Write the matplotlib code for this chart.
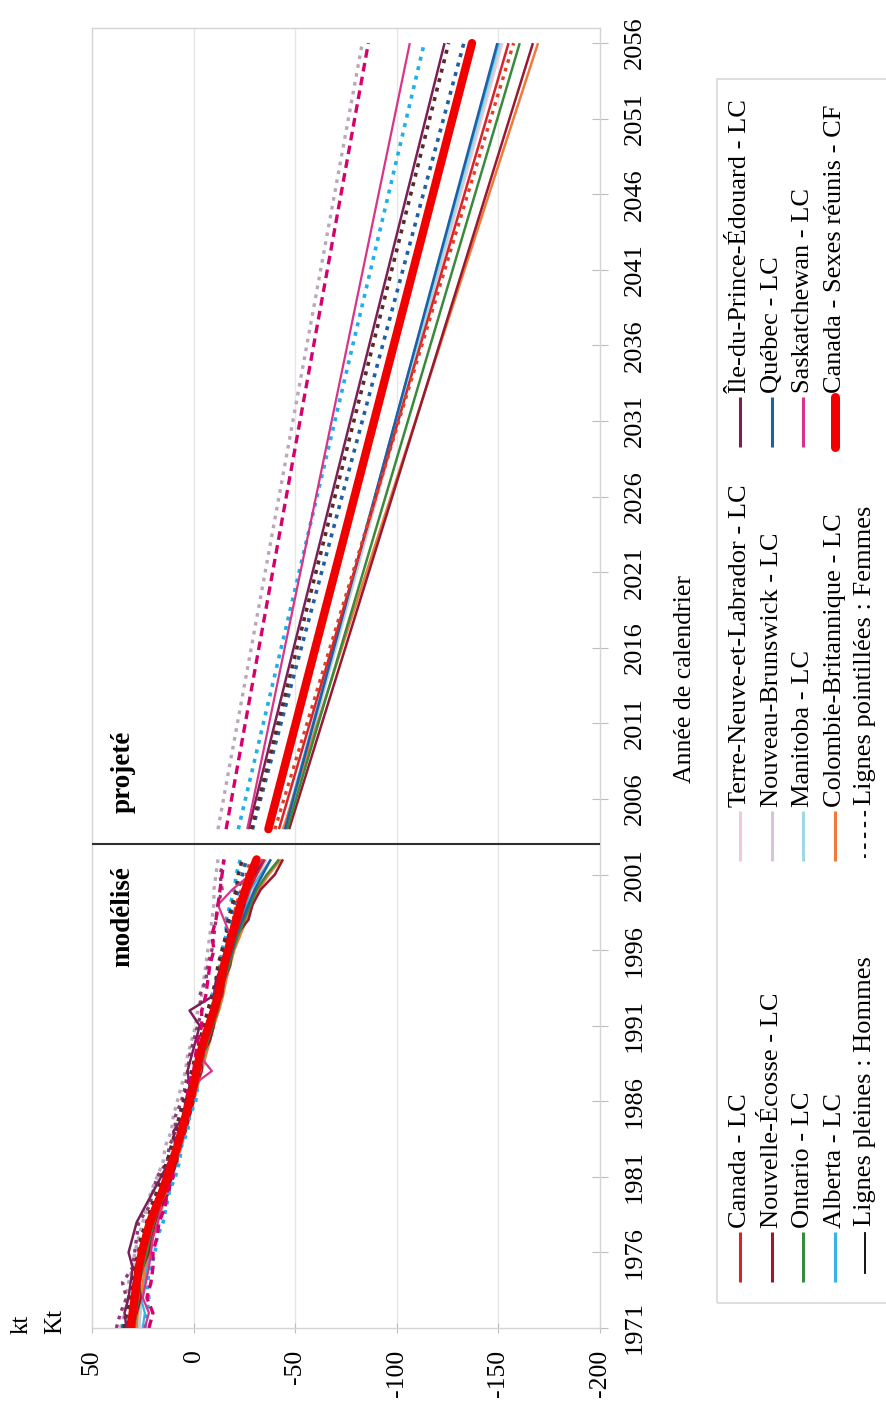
import matplotlib
matplotlib.use("Agg")
import matplotlib.pyplot as plt
from matplotlib.lines import Line2D
from matplotlib.patches import Rectangle

plt.rcParams["font.family"] = ["Liberation Serif", "DejaVu Serif"]

# ---------------------------------------------------------------- data
years_hist = list(range(1971, 2003))          # modelled period
proj_years = [2004, 2056]                      # linear projection end points
divider_year = 2003

year_ticks = list(range(1971, 2057, 5))
kt_ticks = [50, 0, -50, -100, -150, -200]

# modelled kt, 1971-2002
canada_cf = [31, 30, 29, 28, 27, 25.5, 23.5, 21.5, 18.5, 15.5, 13, 10.5, 8, 6, 4, 2,
             0, -1.5, -3, -5, -7.5, -10, -12, -13.5, -15, -17, -19, -21, -23, -25.5, -28, -31]
canada_m = [30, 29, 28.5, 27, 26, 24, 22.5, 20, 17.5, 15, 12, 10, 7.5, 5, 3, 1.5,
            -1, -2.5, -4, -6, -8.5, -11, -13, -14, -16, -18, -20.5, -23, -25, -27.5, -31, -35]
canada_f = [32, 31, 29, 29, 27.5, 26, 24, 22.5, 19.5, 16, 14, 11, 9, 7, 5, 3,
            1, -0.5, -2, -4, -6.5, -9, -11, -12.5, -14, -16, -18, -19.5, -21, -23.5, -26, -28]
quebec_m = [33, 31, 30, 29.5, 27, 26, 24.5, 21, 19, 16.5, 14, 11, 9, 6.5, 4, 2.5,
            0, -2, -4.5, -6, -9, -11, -13.5, -15, -16.5, -19, -21, -24, -27, -30, -34, -38]
quebec_f = [35, 33, 32, 30, 29, 27, 25, 23, 20, 18, 15, 13, 10, 8, 6, 4,
            2, 0, -2, -3.5, -6, -8, -10, -12, -13, -15, -16.5, -18, -20, -22, -24, -26]
ontario_m = [29, 28.5, 27, 26.5, 25, 23, 21.5, 19.5, 17, 14, 12, 9.5, 7, 4.5, 3, 1,
             -1.5, -3, -5, -7, -9.5, -12, -13.5, -15, -17.5, -19.5, -22, -25, -28, -31, -36, -42]
ns_m = [30, 28, 26, 27, 25, 22, 20.5, 19, 16, 12, 11, 8, 7.5, 4, 2, 0,
        -1, -4, -4, -8, -10, -10.5, -14, -15, -18, -19, -21, -27, -29, -33, -40, -44]
ns_f = [34, 33, 31, 30, 29, 27, 26, 23, 21, 18, 16, 13, 11, 9, 7, 5,
        3, 1, -1, -3, -5, -7, -9, -11, -12, -14, -16, -17, -19, -21, -22, -24]
bc_m = [28, 27.5, 26, 25, 24, 22, 20, 18, 15.5, 13, 10.5, 8.5, 6, 4, 2, 0,
        -2, -4, -6, -8, -10, -12.5, -14.5, -16, -18, -20, -23, -26, -29, -32, -37, -43]
alberta_m = [25, 24, 26, 24, 23, 22, 20.5, 18, 17, 14, 11.5, 9, 6.5, 5, 3, 0,
             -2, -1, -4, -6, -7, -10, -11, -13, -15, -17, -19, -23, -26, -28, -33, -38]
alberta_f = [24, 23, 22, 23, 21, 19, 18, 15, 13.5, 12, 9, 7, 6, 3, 2, -1,
             -2, -3, -5, -6, -8, -10, -9, -12, -13, -14, -16, -16, -18, -20, -21, -23]
sask_m = [24, 22, 25, 23.5, 22, 21, 20, 17.5, 16, 17, 13, 11, 8, 7.5, 4.5, 3,
          1, -9, -3, -4, -7, -10, -12, -12, -15, -16, -18, -15, -12, -19, -28, -34]
sask_f = [22, 20, 23, 21, 20, 20, 18, 17, 14, 13, 10, 11, 8, 6, 5, 3,
          3, 0, -1, -2, -4, -4, -6, -7, -8, -10, -9, -11, -12, -13, -14, -15]
pei_m = [33, 34, 32, 31, 30, 32, 30, 28, 24, 20, 16, 12, 9, 10, 5, 4,
         2, 3, 1, -1, -3, 2, -10, -11, -14, -16, -17, -22, -25, -24, -30, -34]
pei_f = [38, 36, 33, 35, 30, 29, 28, 27, 22, 20, 18, 13, 12, 9, 9, 6,
         4, 3, 2, 0, -2, -4, -3, -6, -7, -9, -10, -11, -12, -14, -13, -15]
nl_m = [26, 27, 25, 24, 23, 21, 20, 18, 15, 14, 12, 9, 7, 6, 3, 1,
        0, -3, -4, -6, -9, -11, -13, -14, -16, -18, -20, -23, -26, -29, -32, -36]
nb_m = [31, 29, 30, 27, 26, 25, 22, 21, 18, 16, 13, 11, 9, 6, 5, 2,
        0, -2, -3, -6, -8, -10, -13, -14, -16, -17, -20, -22, -25, -28, -31, -34]
nb_f = [36, 34, 33, 32, 30, 29, 27, 25, 23, 21, 18, 15, 14, 11, 10, 8,
        6, 4, 3, 1, -1, -2, -4, -5, -6, -7, -8, -9, -10, -10, -11, -12]
manitoba_m = [27, 26, 26, 25, 23, 22, 20, 19, 16, 14, 12, 10, 7, 5, 3, 1,
              -1, -2, -4, -6, -8, -11, -12, -14, -16, -18, -21, -23, -26, -28, -31, -35]

# projected kt at 2004 and 2056
canada_cf_proj = [-36.8, -137]
canada_m_proj = [-42, -155]
canada_f_proj = [-40, -157.5]
quebec_m_proj = [-45, -149.5]
quebec_f_proj = [-29, -133]
ontario_m_proj = [-46, -160.5]
ns_m_proj = [-47, -167]
ns_f_proj = [-28.5, -125.5]
bc_m_proj = [-44, -169.5]
alberta_m_proj = [-44.5, -150]
alberta_f_proj = [-22, -113.5]
sask_m_proj = [-26.4, -106.4]
sask_f_proj = [-16, -86]
pei_m_proj = [-27, -123.5]
nl_m_proj = [-45.5, -152]
nb_m_proj = [-45, -150.5]
nb_f_proj = [-12, -83]
manitoba_m_proj = [-45.5, -151]

# colours
C_CANADA = "#D8232A"
C_NS = "#9A1830"
C_ONT = "#3A8A3C"
C_ALB = "#36B3E8"
C_NL = "#F0C8D8"
C_NB = "#D8C4DA"
C_MAN = "#9ED8E2"
C_BC = "#F07A3A"
C_PEI = "#7A2056"
C_QC = "#1F5FA5"
C_SASK = "#D8348A"
C_CF = "#F20000"

DOT = (0, (1.1, 1.6))
DASH = (0, (2.6, 1.6))

# (hist, proj, colour, linestyle, linewidth, zorder)
series = [
    (nl_m, nl_m_proj, C_NL, "-", 1.6, 2),
    (nb_m, nb_m_proj, C_NB, "-", 1.6, 2),
    (manitoba_m, manitoba_m_proj, C_MAN, "-", 1.6, 2),
    (nb_f, nb_f_proj, "#B9A6BA", DOT, 2.4, 2),
    (alberta_m, alberta_m_proj, C_ALB, "-", 1.6, 2),
    (pei_f, None, "#8E3A76", DOT, 2.4, 3),
    (bc_m, bc_m_proj, C_BC, "-", 1.8, 3),
    (ns_m, ns_m_proj, C_NS, "-", 1.8, 3),
    (ontario_m, ontario_m_proj, C_ONT, "-", 1.8, 3),
    (quebec_m, quebec_m_proj, C_QC, "-", 1.8, 3),
    (canada_m, canada_m_proj, C_CANADA, "-", 1.8, 3),
    (canada_f, canada_f_proj, "#E0402A", DOT, 2.4, 3),
    (quebec_f, quebec_f_proj, C_QC, DOT, 2.6, 3),
    (alberta_f, alberta_f_proj, "#1FB0EA", DOT, 2.6, 3),
    (ns_f, ns_f_proj, "#5A2A24", DOT, 2.6, 3),
    (pei_m, pei_m_proj, C_PEI, "-", 1.8, 3),
    (sask_m, sask_m_proj, C_SASK, "-", 1.6, 3),
    (sask_f, sask_f_proj, "#D6006E", DASH, 2.4, 3),
    (canada_cf, canada_cf_proj, C_CF, "-", 6.0, 5),
]

legend_cols = [
    [("Canada - LC", C_CANADA), ("Nouvelle-Écosse - LC", C_NS),
     ("Ontario - LC", C_ONT), ("Alberta - LC", C_ALB)],
    [("Terre-Neuve-et-Labrador - LC", C_NL), ("Nouveau-Brunswick - LC", C_NB),
     ("Manitoba - LC", C_MAN), ("Colombie-Britannique - LC", C_BC)],
    [("Île-du-Prince-Édouard - LC", C_PEI), ("Québec - LC", C_QC),
     ("Saskatchewan - LC", C_SASK), ("Canada - Sexes réunis - CF", C_CF)],
]

# ---------------------------------------------------------------- figure
W, H = 887, 1406
fig = plt.figure(figsize=(W / 100, H / 100), dpi=100)
fig.patch.set_facecolor("white")


def fx(x):
    return x / W


def fy(y):
    return 1 - y / H


ax = fig.add_axes([fx(92), fy(1328), (600 - 92) / W, (1328 - 28) / H])
ax.set_xlim(50, -200)
ax.set_ylim(1971, 2057)

for k in kt_ticks[1:-1]:
    ax.axvline(k, color="#e6e6e6", lw=1.0, zorder=0)

for hist, proj, col, ls, lw, z in series:
    cap = "round" if lw > 4 else "butt"
    if hist is not None:
        ax.plot(hist, years_hist, color=col, ls=ls, lw=lw, zorder=z,
                solid_capstyle=cap, solid_joinstyle="round")
    if proj is not None:
        ax.plot(proj, proj_years, color=col, ls=ls, lw=lw, zorder=z,
                solid_capstyle=cap)

ax.axhline(divider_year, color="#303030", lw=1.5, zorder=6)

for s in ax.spines.values():
    s.set_color("#d4d4d4")
    s.set_linewidth(1.0)

ax.set_xticks(kt_ticks)
ax.set_xticklabels([str(v) for v in kt_ticks], rotation=90, fontsize=18.5)
ax.set_yticks(year_ticks)
ax.set_yticklabels([str(v) for v in year_ticks], rotation=90, fontsize=19,
                   va="center")
ax.tick_params(axis="x", direction="inout", length=7, color="#bdbdbd", pad=12)
ax.tick_params(axis="y", left=False, right=True, labelleft=False,
               labelright=True, direction="inout", length=12,
               color="#bdbdbd", pad=11)

ax.text(fx(123), fy(917), "modélisé", transform=fig.transFigure, rotation=90,
        ha="center", va="center", fontsize=19.5, fontweight="bold")
ax.text(fx(123), fy(772), "projeté", transform=fig.transFigure, rotation=90,
        ha="center", va="center", fontsize=19.5, fontweight="bold")

fig.text(fx(22), fy(1324), "kt", rotation=90, ha="center", va="center", fontsize=18)
fig.text(fx(55), fy(1322), "Kt", rotation=90, ha="center", va="center", fontsize=18)
fig.text(fx(685), fy(679), "Année de calendrier", rotation=90, ha="center",
         va="center", fontsize=18.5)

# ---------------------------------------------------------------- legend
fig.add_artist(Rectangle((fx(717), fy(1303)), fx(900 - 717), (1303 - 79) / H,
                         transform=fig.transFigure, fill=False,
                         edgecolor="#d8d8d8", lw=1.2))

row_x = [740, 772, 803, 835]
col_text_y = [1228, 807, 393]
for col_items, ty in zip(legend_cols, col_text_y):
    for (label, colr), rx in zip(col_items, row_x):
        is_cf = colr == C_CF
        fig.add_artist(Line2D([fx(rx), fx(rx)], [fy(ty + 4), fy(ty + 54)],
                              transform=fig.transFigure, color=colr,
                              lw=6.5 if is_cf else 2.2,
                              solid_capstyle="round" if is_cf else "butt"))
        fig.text(fx(rx), fy(ty), label, rotation=90, ha="center", va="bottom",
                 fontsize=19)

fig.add_artist(Line2D([fx(865), fx(865)], [fy(1233), fy(1273)],
                      transform=fig.transFigure, color="black", lw=1.3))
fig.text(fx(865), fy(1226), "Lignes pleines : Hommes", rotation=90,
         ha="center", va="bottom", fontsize=19)
fig.add_artist(Line2D([fx(865), fx(865)], [fy(811), fy(858)],
                      transform=fig.transFigure, color="black", lw=1.3,
                      ls=(0, (3, 3))))
fig.text(fx(865), fy(805), "Lignes pointillées : Femmes", rotation=90,
         ha="center", va="bottom", fontsize=19)

fig.savefig("out.png", dpi=100, facecolor="white")
